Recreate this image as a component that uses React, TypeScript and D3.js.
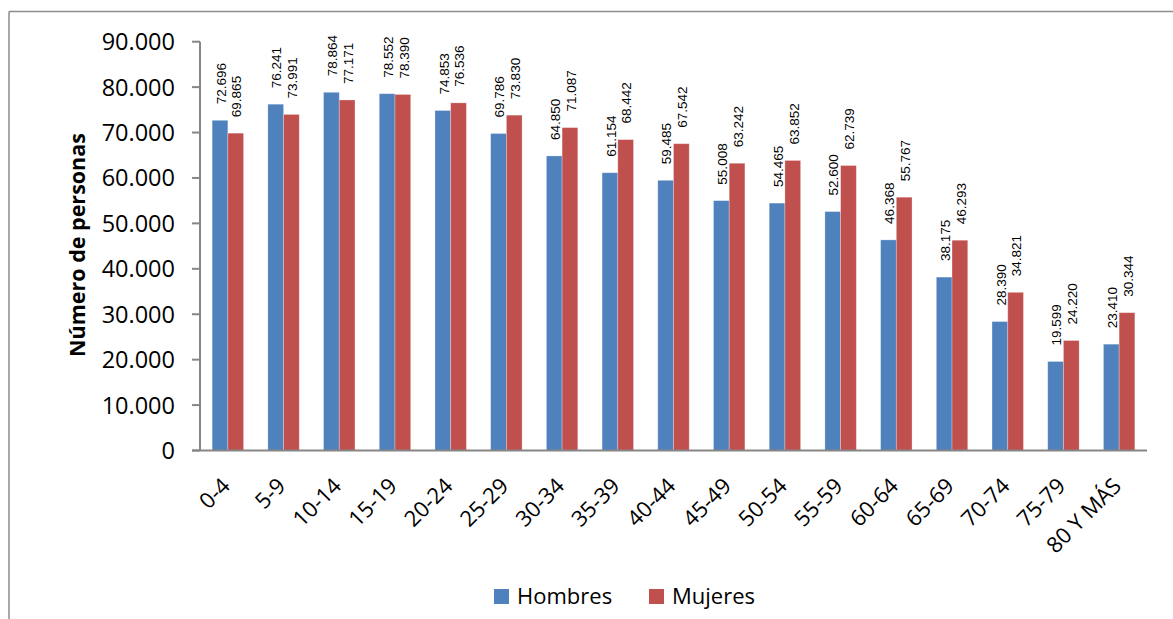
import React from "react";
import * as d3 from "d3";

const categories = ["0-4", "5-9", "10-14", "15-19", "20-24", "25-29", "30-34", "35-39", "40-44", "45-49", "50-54", "55-59", "60-64", "65-69", "70-74", "75-79", "80 Y MÁS"];
const hombres = [72696, 76241, 78864, 78552, 74853, 69786, 64850, 61154, 59485, 55008, 54465, 52600, 46368, 38175, 28390, 19599, 23410];
const mujeres = [69865, 73991, 77171, 78390, 76536, 73830, 71087, 68442, 67542, 63242, 63852, 62739, 55767, 46293, 34821, 24220, 30344];
const yTicks = [0, 10000, 20000, 30000, 40000, 50000, 60000, 70000, 80000, 90000];
const seriesNames = ["Hombres", "Mujeres"];
const colors = ["#4F81BD", "#C0504D"];

const fmt = (v: number) => d3.format(",")(v).replace(/,/g, ".");

export default function App() {
  const W = 1173, H = 619;
  const x0 = 200, x1 = 1147, yTop = 41.7, yBot = 450.5;
  const x = d3.scaleBand<string>().domain(categories).range([x0, x1]).paddingInner(0.436).paddingOuter(0.218);
  const xs = d3.scaleBand<string>().domain(seriesNames).range([0, x.bandwidth()]);
  const y = d3.scaleLinear().domain([0, 90000]).range([yBot, yTop]);
  const series = [hombres, mujeres];
  const font = "'Open Sans', sans-serif";

  return (
    <svg width={W} height={H} style={{ position: "absolute", left: 0, top: 0, background: "#fff" }}>
      <rect x={0} y={0} width={W} height={H} fill="#fff" />
      <line x1={9} y1={11.5} x2={W} y2={11.5} stroke="#8c8c8c" strokeWidth={1.5} />
      <line x1={9} y1={11.5} x2={9} y2={H} stroke="#8c8c8c" strokeWidth={1.5} />

      {series.map((vals, si) =>
        categories.map((c, i) => {
          const bx = (x(c) as number) + (xs(seriesNames[si]) as number);
          const bw = xs.bandwidth();
          const top = y(vals[i]);
          return (
            <g key={`${si}-${i}`}>
              <rect x={bx} y={top} width={bw} height={yBot - top} fill={colors[si]} stroke="rgba(255,255,255,0.35)" strokeWidth={0.8} />
              <text
                transform={`translate(${bx + bw / 2 + 1},${top - 16}) rotate(-90)`}
                dy="0.35em"
                fontFamily="'Liberation Sans', Arial, sans-serif"
                fontSize={13.5}
                fill="#000"
              >
                {fmt(vals[i])}
              </text>
            </g>
          );
        })
      )}

      {/* y axis */}
      <line x1={x0} y1={yTop} x2={x0} y2={yBot} stroke="#868686" strokeWidth={2} />
      {yTicks.map((t) => (
        <g key={t}>
          <line x1={192} x2={x0} y1={y(t)} y2={y(t)} stroke="#868686" strokeWidth={2} />
          <text x={175} y={y(t)} dy="0.36em" textAnchor="end" fontFamily={font} fontSize={23.5} fill="#000">
            {fmt(t)}
          </text>
        </g>
      ))}
      {/* x axis */}
      <line x1={192} x2={x1} y1={yBot} y2={yBot} stroke="#868686" strokeWidth={2} />
      {categories.map((c) => {
        const cx = (x(c) as number) + x.bandwidth() / 2;
        return (
          <text
            key={c}
            transform={`translate(${cx - 2},${482}) rotate(-45)`}
            dy="0.35em"
            textAnchor="end"
            fontFamily={font}
            fontSize={22}
            fill="#000"
          >
            {c}
          </text>
        );
      })}

      <text
        transform={`translate(85,245) rotate(-90)`}
        textAnchor="middle"
        fontFamily={font}
        fontWeight="bold"
        fontSize={21.5}
        fill="#000"
      >
        Número de personas
      </text>

      {/* legend */}
      {seriesNames.map((s, i) => {
        const lx = i === 0 ? 494 : 649;
        return (
          <g key={s}>
            <rect x={lx} y={589} width={15} height={15} fill={colors[i]} />
            <text x={lx + 23} y={604} fontFamily={font} fontSize={22} fill="#000">
              {s}
            </text>
          </g>
        );
      })}
    </svg>
  );
}
